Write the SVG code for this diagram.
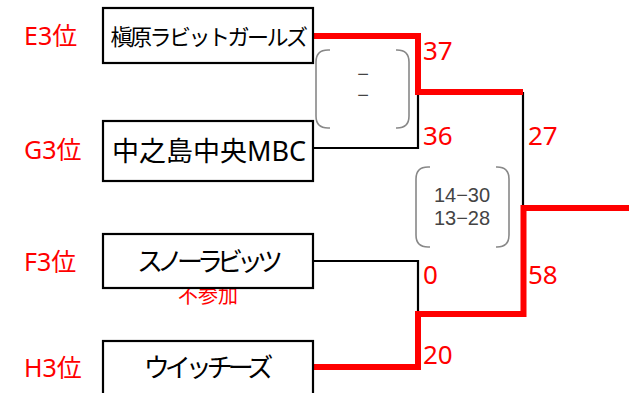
<svg xmlns="http://www.w3.org/2000/svg" width="637" height="393" viewBox="0 0 637 393">
<style>
.box{fill:#fff;stroke:#000;stroke-width:2.2}
.team{font-family:"Noto Sans","Noto Sans CJK JP",sans-serif;fill:#000;text-anchor:middle}
.seed{font-family:"Noto Sans","Noto Sans CJK JP",sans-serif;font-size:25px;fill:#ff0000}
.score{font-family:"Noto Sans","Noto Sans CJK JP",sans-serif;font-size:26px;fill:#ff0000}
.blk{fill:none;stroke:#000;stroke-width:2.2}
.red{fill:none;stroke:#ff0000;stroke-width:6}
.brk{fill:none;stroke:#888;stroke-width:1.6}
.set{font-family:"Liberation Sans",sans-serif;font-size:20px;fill:#444;text-anchor:middle}
</style>
<g id="seeds">
<text class="seed" x="24" y="45">E3位</text>
<text class="seed" x="24" y="159">G3位</text>
<text class="seed" x="24" y="271">F3位</text>
<text class="seed" x="24" y="377">H3位</text>
</g>
<text x="208" y="303" font-family="Noto Sans CJK JP, sans-serif" font-size="20" fill="#ff0000" text-anchor="middle">不参加</text>
<g id="connectors">
<polyline class="blk" points="313,148 418,148 418,92"/>
<polyline class="blk" points="313,261 418,261 418,314"/>
<polyline class="blk" points="523,92 523,208"/>
<polyline class="red" points="313,36 418,36 418,92 523,92"/>
<polyline class="red" points="313,367 418,367 418,314 523.5,314 523.5,208 629,208"/>
</g>
<g id="team1"><rect class="box" x="103" y="8" width="210" height="55"/><text class="team" x="208" y="45" style="font-size:22px;letter-spacing:-2.5px">槇原ラビットガールズ</text></g>
<g id="team2"><rect class="box" x="103" y="121" width="210" height="60"/><text class="team" x="209" y="161" style="font-size:27px">中之島中央MBC</text></g>
<g id="team3"><rect class="box" x="103" y="234" width="210" height="54"/><text class="team" x="207" y="271" style="font-size:26px;letter-spacing:-6px">スノーラビッツ</text></g>
<g id="team4"><rect class="box" x="103" y="341" width="210" height="56"/><text class="team" x="206" y="377" style="font-size:26px;letter-spacing:-5px">ウイッチーズ</text></g>
<g id="scores">
<text class="score" x="423" y="60">37</text>
<text class="score" x="423" y="145">36</text>
<text class="score" x="528" y="145">27</text>
<text class="score" x="423" y="284">0</text>
<text class="score" x="528" y="284">58</text>
<text class="score" x="423" y="364">20</text>
</g>
<g id="setbox1">
<path class="brk" d="M330,50 H328 Q316,50 316,62 V116 Q316,128 328,128 H330"/>
<path class="brk" d="M396,50 H397 Q409,50 409,62 V116 Q409,128 397,128 H396"/>
<text class="set" x="363" y="81" style="font-size:20px">−</text>
<text class="set" x="363" y="102" style="font-size:20px">−</text>
</g>
<g id="setbox2">
<path class="brk" d="M430,167 H428 Q416,167 416,179 V235 Q416,247 428,247 H430"/>
<path class="brk" d="M496,167 H497 Q509,167 509,179 V235 Q509,247 497,247 H496"/>
<text class="set" x="462" y="202">14−30</text>
<text class="set" x="462" y="225">13−28</text>
</g>
</svg>
